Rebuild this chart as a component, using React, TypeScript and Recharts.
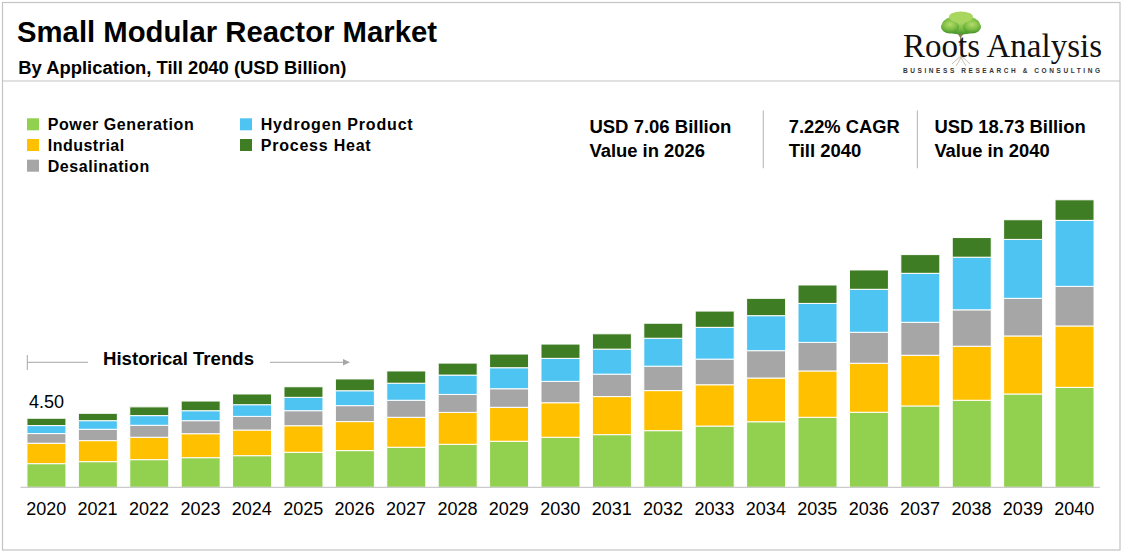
import React from 'react';
import { BarChart, Bar, XAxis, YAxis, LabelList } from 'recharts';

const years = ['2020','2021','2022','2023','2024','2025','2026','2027','2028','2029','2030','2031','2032','2033','2034','2035','2036','2037','2038','2039','2040'];
const powerGeneration = [1.54,1.67,1.80,1.93,2.06,2.28,2.39,2.61,2.80,3.00,3.26,3.43,3.69,3.99,4.27,4.56,4.89,5.30,5.67,6.08,6.51];
const industrial = [1.33,1.37,1.46,1.56,1.67,1.73,1.89,1.95,2.08,2.21,2.25,2.48,2.61,2.69,2.85,3.02,3.19,3.30,3.52,3.78,4.00];
const desalination = [0.63,0.74,0.78,0.85,0.89,0.98,1.04,1.11,1.17,1.21,1.39,1.46,1.59,1.67,1.78,1.86,2.02,2.15,2.37,2.45,2.58];
const hydrogenProduct = [0.52,0.56,0.63,0.65,0.76,0.87,0.97,1.11,1.26,1.37,1.50,1.63,1.82,2.07,2.28,2.54,2.80,3.19,3.43,3.84,4.30];
const processHeat = [0.48,0.48,0.57,0.63,0.70,0.69,0.77,0.80,0.78,0.89,0.93,1.00,0.98,1.06,1.13,1.20,1.26,1.22,1.28,1.28,1.34];

const seriesNames = ['Power Generation','Industrial','Desalination','Hydrogen Product','Process Heat'];
const seriesKeys = ['power','industrial','desalination','hydrogen','heat'];
const seriesColors = ['#92D050','#FFC000','#A6A6A6','#4DC4F1','#3F7D24'];

const data = years.map((y, i) => ({
  year: y,
  power: powerGeneration[i],
  industrial: industrial[i],
  desalination: desalination[i],
  hydrogen: hydrogenProduct[i],
  heat: processHeat[i],
}));

const totals = data.map(d => d.power + d.industrial + d.desalination + d.hydrogen + d.heat);

const FONT = '"Liberation Sans", Arial, Helvetica, sans-serif';

const legendItems = [
  { name: seriesNames[0], color: seriesColors[0], x: 27, y: 124.3, w: 146 },
  { name: seriesNames[1], color: seriesColors[1], x: 27, y: 145, w: 76.5 },
  { name: seriesNames[2], color: seriesColors[2], x: 27, y: 165.7, w: 101.5 },
  { name: seriesNames[3], color: seriesColors[3], x: 240, y: 124.3, w: 152 },
  { name: seriesNames[4], color: seriesColors[4], x: 240, y: 145, w: 110 },
];

const stats = [
  { t: 'USD 7.06 Billion', x: 589.4, y: 132.7, w: 142 },
  { t: 'Value in 2026', x: 589.4, y: 157.1, w: 115.6 },
  { t: '7.22% CAGR', x: 788.7, y: 132.7, w: 111 },
  { t: 'Till 2040', x: 788.7, y: 157.1, w: 72.5 },
  { t: 'USD 18.73 Billion', x: 934.4, y: 132.7, w: 151.3 },
  { t: 'Value in 2040', x: 934.4, y: 157.1, w: 115.3 },
];

const FirstLabel = (props: any) => {
  const { x, y, width, index } = props;
  if (index !== 0) return null;
  return (
    <text x={x + width / 2} y={y - 10} textAnchor="middle" fontSize={18} fontFamily={FONT} fill="#000">
      {totals[0].toFixed(2)}
    </text>
  );
};

export default function App() {
  return (
    <div style={{ position: 'absolute', left: 0, top: 0, width: 1123, height: 553, background: '#fff', fontFamily: FONT }}>
      <BarChart
        width={1123}
        height={553}
        data={data}
        margin={{ top: 180.3, left: 20.5, right: 23, bottom: 35.7 }}
        barCategoryGap={6.45}
      >
        <XAxis
          dataKey="year"
          height={30}
          interval={0}
          tickLine={false}
          tickMargin={9}
          axisLine={{ stroke: '#BFBFBF', strokeWidth: 1 }}
          tick={{ fontSize: 18, fill: '#000', fontFamily: FONT }}
        />
        <YAxis hide domain={[0, 20]} />
        {seriesKeys.map((k, i) => (
          <Bar
            key={k}
            dataKey={k}
            name={seriesNames[i]}
            stackId="a"
            fill={seriesColors[i]}
            stroke="#fff"
            strokeWidth={1}
            isAnimationActive={false}
          >
            {i === seriesKeys.length - 1 ? <LabelList dataKey={k} content={<FirstLabel />} /> : null}
          </Bar>
        ))}
      </BarChart>

      <svg width={1123} height={553} style={{ position: 'absolute', left: 0, top: 0, pointerEvents: 'none' }}>
        <defs>
          <radialGradient id="treeGrad" cx="50%" cy="30%" r="65%">
            <stop offset="0%" stopColor="#B6DC6A" />
            <stop offset="60%" stopColor="#7DBE45" />
            <stop offset="100%" stopColor="#4E9A2E" />
          </radialGradient>
        </defs>
        {/* frame */}
        <rect x={2.5} y={2.5} width={1117.5} height={547.5} fill="none" stroke="#C4C4C4" strokeWidth={1.2} />
        <line x1={2.5} y1={81} x2={1120} y2={81} stroke="#C4C4C4" strokeWidth={1.2} />

        {/* title */}
        <text x={17} y={41.7} fontSize={29} fontWeight="bold" fontFamily={FONT} fill="#000" textLength={420} lengthAdjust="spacingAndGlyphs">
          Small Modular Reactor Market
        </text>
        <text x={18.3} y={74} fontSize={18} fontWeight="bold" fontFamily={FONT} fill="#000" textLength={328} lengthAdjust="spacingAndGlyphs">
          By Application, Till 2040 (USD Billion)
        </text>

        {/* logo */}
        <g>
          <path d="M960 46 L961 34 M961 36 L955 30 M961 36 L967 29 M961 38 L958 33" stroke="#8A7A5A" strokeWidth={1.2} fill="none" />
          <ellipse cx={961} cy={25} rx={19} ry={9.5} fill="url(#treeGrad)" />
          <ellipse cx={950} cy={27} rx={9} ry={6.5} fill="url(#treeGrad)" />
          <ellipse cx={972} cy={27} rx={9} ry={6.5} fill="url(#treeGrad)" />
          <ellipse cx={961} cy={17} rx={12} ry={5.5} fill="#A9D65E" />
          <path d="M952 64 Q958 58 961 56 Q964 58 970 64 M956 66 Q960 60 961 57 M966 66 Q962 60 961 57" stroke="#C9C2B4" strokeWidth={1} fill="none" />
        </g>
        <text x={903} y={57} fontSize={33} fontFamily='"Liberation Serif", "Times New Roman", serif' fill="#111" textLength={199} lengthAdjust="spacingAndGlyphs">
          Roots Analysis
        </text>
        <text x={903} y={73} fontSize={6.5} fontWeight="bold" fontFamily={FONT} fill="#333" textLength={197} lengthAdjust="spacing">
          BUSINESS RESEARCH &amp; CONSULTING
        </text>

        {/* legend */}
        {legendItems.map(it => (
          <g key={it.name}>
            <rect x={it.x} y={it.y - 6} width={12} height={12} fill={it.color} />
            <text x={it.x + 20.7} y={it.y + 5.8} fontSize={16} fontWeight="bold" fontFamily={FONT} fill="#000" textLength={it.w} lengthAdjust="spacing">
              {it.name}
            </text>
          </g>
        ))}

        {/* stats */}
        {stats.map(s => (
          <text key={s.t} x={s.x} y={s.y} fontSize={18} fontWeight="bold" fontFamily={FONT} fill="#000" textLength={s.w} lengthAdjust="spacingAndGlyphs">
            {s.t}
          </text>
        ))}
        <line x1={763.3} y1={110.5} x2={763.3} y2={168.3} stroke="#BFBFBF" strokeWidth={1.2} />
        <line x1={917.4} y1={110.5} x2={917.4} y2={168.3} stroke="#BFBFBF" strokeWidth={1.2} />

        {/* historical trends */}
        <line x1={27.3} y1={355} x2={27.3} y2={370} stroke="#A6A6A6" strokeWidth={1} />
        <line x1={27.3} y1={362.3} x2={88} y2={362.3} stroke="#A6A6A6" strokeWidth={1} />
        <line x1={270} y1={362.3} x2={347} y2={362.3} stroke="#A6A6A6" strokeWidth={1} />
        <path d="M343 359 L350 362.3 L343 365.6 Z" fill="#A6A6A6" />
        <text x={103} y={364.8} fontSize={18} fontWeight="bold" fontFamily={FONT} fill="#000" textLength={151} lengthAdjust="spacingAndGlyphs">
          Historical Trends
        </text>
      </svg>
    </div>
  );
}
